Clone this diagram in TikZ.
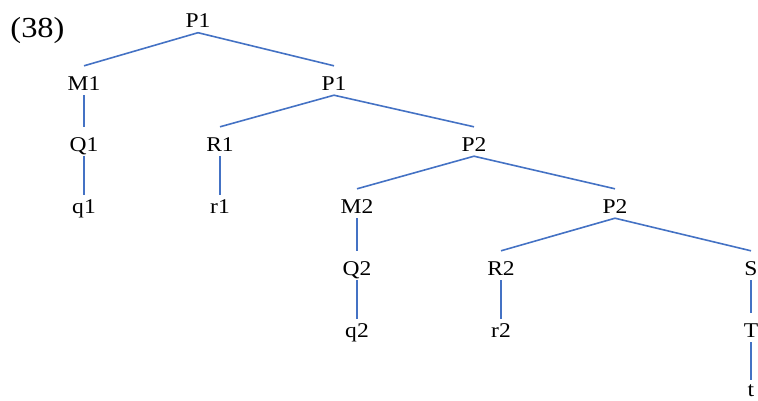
\documentclass[tikz,border=0pt]{standalone}
\usepackage{fontspec}
\setmainfont[FakeStretch=1.12]{Liberation Serif}
\definecolor{lineblue}{RGB}{68,114,196}
\begin{document}
\begin{tikzpicture}[x=1pt,y=-1pt,
  lab/.style={anchor=base, inner sep=0pt, font=\fontsize{21}{25}\selectfont, text height=24pt, text depth=5pt},
  leaf/.style={lab, text height=18pt},
  conn/.style={draw=lineblue, line width=1.6pt}]
\useasboundingbox (0,0) rectangle (758,400);
\node[anchor=base, inner sep=0pt, font=\fontsize{29}{34}\selectfont] (num) at (37.5,37) {(38)};
% row 0
\node[lab] (p1a) at (198,27.5) {P1};
% row 1
\node[lab] (m1) at (84,90) {M1};
\node[lab] (p1b) at (334,90) {P1};
% row 2
\node[lab] (q1) at (84,151) {Q1};
\node[lab] (r1) at (220,151) {R1};
\node[lab] (p2a) at (474,151) {P2};
% row 3
\node[leaf] (q1s) at (84,213) {q1};
\node[leaf] (r1s) at (220,213) {r1};
\node[lab] (m2) at (357,213) {M2};
\node[lab] (p2b) at (615,213) {P2};
% row 4
\node[lab] (q2) at (357,275) {Q2};
\node[lab] (r2) at (501,275) {R2};
\node[lab] (s) at (751,275) {S};
% row 5
\node[leaf] (q2s) at (357,337) {q2};
\node[leaf] (r2s) at (501,337) {r2};
\node[lab] (t) at (751,337) {T};
% row 6
\node[leaf, text depth=0pt, text height=16pt] (ts) at (751,396) {t};
% connectors
\draw[conn] (m1.north) -- (p1a.south) -- (p1b.north);
\draw[conn] (m1.south) -- (q1.north);
\draw[conn] (q1.south) -- (q1s.north);
\draw[conn] (r1.north) -- (p1b.south) -- (p2a.north);
\draw[conn] (r1.south) -- (r1s.north);
\draw[conn] (m2.north) -- (p2a.south) -- (p2b.north);
\draw[conn] (m2.south) -- (q2.north);
\draw[conn] (q2.south) -- (q2s.north);
\draw[conn] (r2.north) -- (p2b.south) -- (s.north);
\draw[conn] (r2.south) -- (r2s.north);
\draw[conn] (s.south) -- (t.north);
\draw[conn] (t.south) -- (ts.north);
\end{tikzpicture}
\end{document}
